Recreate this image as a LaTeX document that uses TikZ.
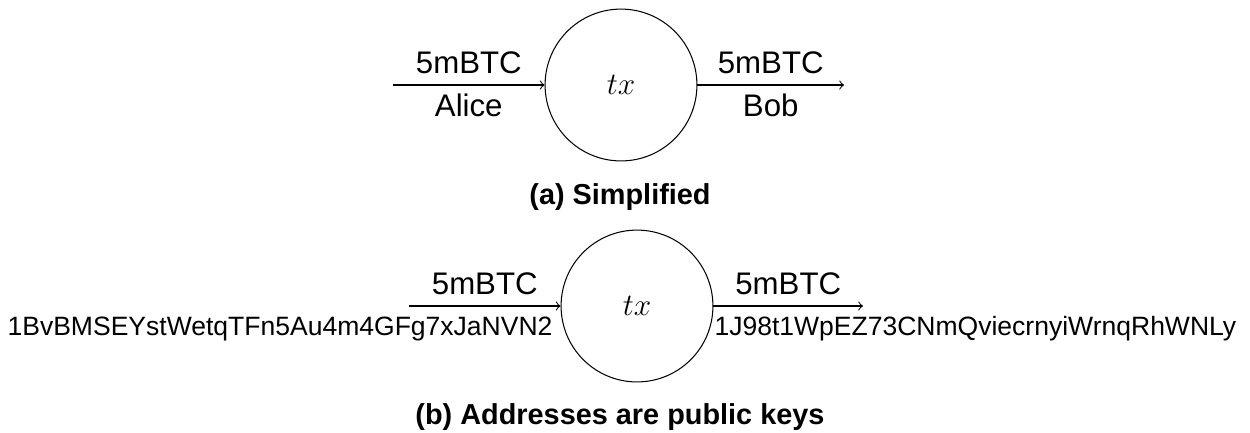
\documentclass[tikz,border=0pt]{standalone}
\usepackage{fontspec}
\setmainfont{Liberation Sans}
\begin{document}
\begin{tikzpicture}[
  x=0.3846pt, y=-0.3846pt,
  txnode/.style={circle, draw, line width=0.4pt, inner sep=0pt,
    minimum size=58.4pt, font=\fontsize{12}{14}\selectfont},
  flow/.style={->, line width=0.4pt},
  amount/.style={font=\fontsize{12}{14}\selectfont, anchor=base, inner sep=0pt},
  over/.style={yshift=4.3pt},
  under/.style={yshift=-12.3pt},
  addr/.style={font=\fontsize{10.2}{12}\selectfont, inner sep=0pt},
  subcap/.style={font=\bfseries\fontsize{11.1}{13}\selectfont, anchor=base, inner sep=0pt}
]
\useasboundingbox (0,0) rectangle (1250,432);

% (a) simplified transaction
\coordinate (a-in) at (393,85);
\coordinate (a-out) at (844,85);
\node[txnode] (a-tx) at (621,85) {$tx$};
\draw[flow] (a-in) -- node[amount, over] {5mBTC} node[amount, under] {Alice} (a-tx);
\draw[flow] (a-tx) -- node[amount, over] {5mBTC} node[amount, under] {Bob} (a-out);
\node[subcap] (a-cap) at (620,204) {(a) Simplified};

% (b) the same transaction with addresses
\coordinate (b-in) at (409,306);
\coordinate (b-out) at (863,306);
\node[txnode] (b-tx) at (637,306) {$tx$};
\draw[flow] (b-in) -- node[amount, over] {5mBTC} (b-tx);
\draw[flow] (b-tx) -- node[amount, over] {5mBTC} (b-out);
\node[addr, anchor=base east] (b-from) at (553,335) {1BvBMSEYstWetqTFn5Au4m4GFg7xJaNVN2};
\node[addr, anchor=base west] (b-to) at (714,335) {1J98t1WpEZ73CNmQviecrnyiWrnqRhWNLy};
\node[subcap] (b-cap) at (620,424) {(b) Addresses are public keys};
\end{tikzpicture}
\end{document}
